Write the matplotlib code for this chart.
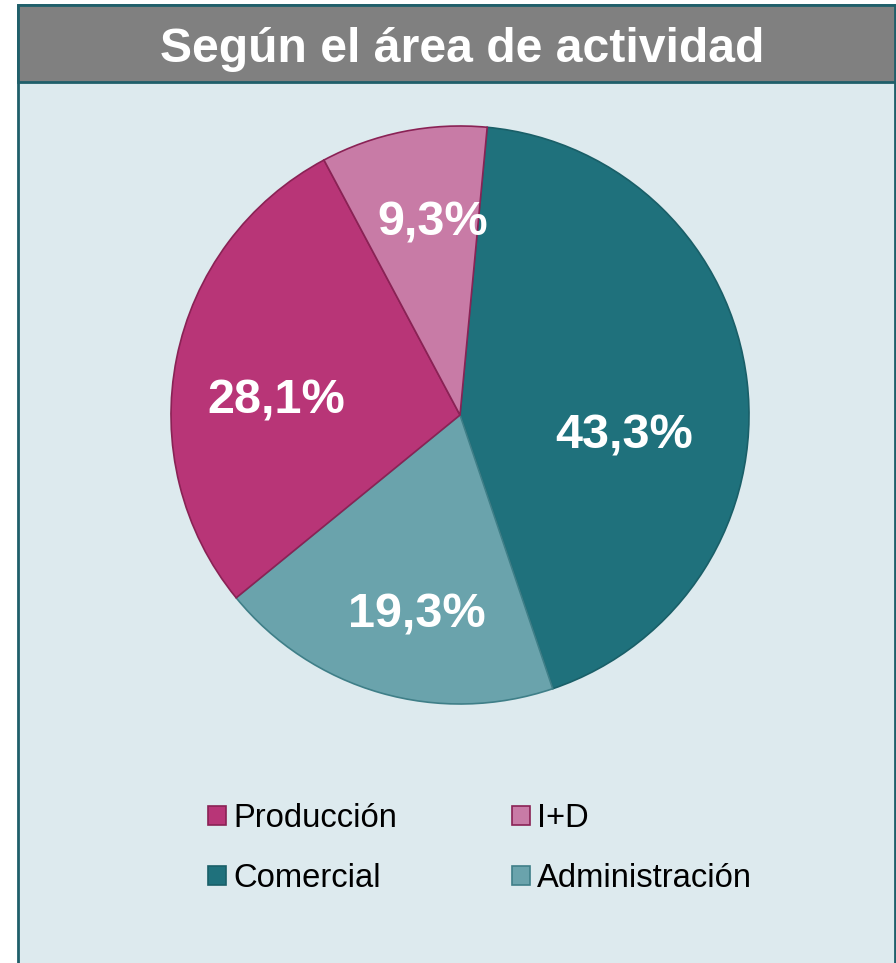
import matplotlib
matplotlib.use("Agg")
import matplotlib.pyplot as plt
import numpy as np
from matplotlib.patches import Rectangle, Patch

plt.rcParams["font.family"] = ["Liberation Sans", "DejaVu Sans"]

# --------------------------------------------------------
# Data
# --------------------------------------------------------

title = "Según el área de actividad"

# drawn clockwise starting just right of 12 o'clock
categories = ["Comercial", "Administración", "Producción", "I+D"]
shares = [43.3, 19.3, 28.1, 9.3]

colors = ["#1f717c", "#6aa3ac", "#b83577", "#c87ba6"]
edges = ["#1a5f68", "#3f7f88", "#8a2255", "#8a2255"]

# label placement as in the original (radius fraction, angle in degrees)
label_radius = [0.57, 0.69, 0.64, 0.69]
label_angle = [-5.5, -102.5, 174.0, 98.0]

legend_order = ["Producción", "Comercial", "I+D", "Administración"]

BG = "#ddeaee"
FRAME = "#1f5f6a"

W, H = 896, 963

fig = plt.figure(figsize=(W / 100, H / 100), dpi=100)
fig.patch.set_facecolor("white")


def fx(px):
    return px / W


def fy(py):
    return 1 - py / H


# --------------------------------------------------------
# Frame and title bar
# --------------------------------------------------------

fig.patches.append(Rectangle(
    (fx(18), fy(970)), fx(895) - fx(18), fy(5) - fy(970),
    transform=fig.transFigure, facecolor=BG, edgecolor=FRAME,
    linewidth=2, zorder=-2,
))

fig.patches.append(Rectangle(
    (fx(18), fy(82)), fx(895) - fx(18), fy(5) - fy(82),
    transform=fig.transFigure, facecolor="#808080", edgecolor=FRAME,
    linewidth=2, zorder=-1,
))

fig.text(
    fx(462), fy(50), title,
    ha="center", va="center",
    fontsize=34.7, fontweight="bold", color="white",
)

# --------------------------------------------------------
# Pie
# --------------------------------------------------------

cx, cy, r = 460, 415, 289

ax = fig.add_axes([fx(cx - r), fy(cy + r), fx(2 * r), fy(cy - r) - fy(cy + r)])
ax.set_facecolor("none")

wedges, _, autotexts = ax.pie(
    shares,
    colors=colors,
    startangle=84.6,
    counterclock=False,
    autopct=lambda p: f"{p:.1f}%".replace(".", ","),
    pctdistance=0.65,
    wedgeprops=dict(linewidth=1.2),
    textprops=dict(color="white", fontsize=35, fontweight="bold"),
)

for w, ec in zip(wedges, edges):
    w.set_edgecolor(ec)

for t, rad, ang in zip(autotexts, label_radius, label_angle):
    a = np.deg2rad(ang)
    t.set_position((rad * np.cos(a), rad * np.sin(a)))
    t.set_va("center_baseline")

ax.set_xlim(-1, 1)
ax.set_ylim(-1, 1)
ax.set_aspect("equal")
ax.axis("off")

# --------------------------------------------------------
# Legend
# --------------------------------------------------------

handles = []

for name in legend_order:
    i = categories.index(name)
    handles.append(Patch(facecolor=colors[i], edgecolor=edges[i], linewidth=1.2, label=name))

fig.legend(
    handles=handles,
    loc="upper left",
    bbox_to_anchor=(fx(208), fy(803)),
    ncol=2,
    frameon=False,
    fontsize=23.6,
    handlelength=0.55,
    handleheight=0.55,
    handletextpad=0.22,
    columnspacing=3.5,
    labelspacing=0.89,
    borderpad=0,
    borderaxespad=0,
)

fig.savefig("out.png", dpi=100, facecolor=fig.get_facecolor())
